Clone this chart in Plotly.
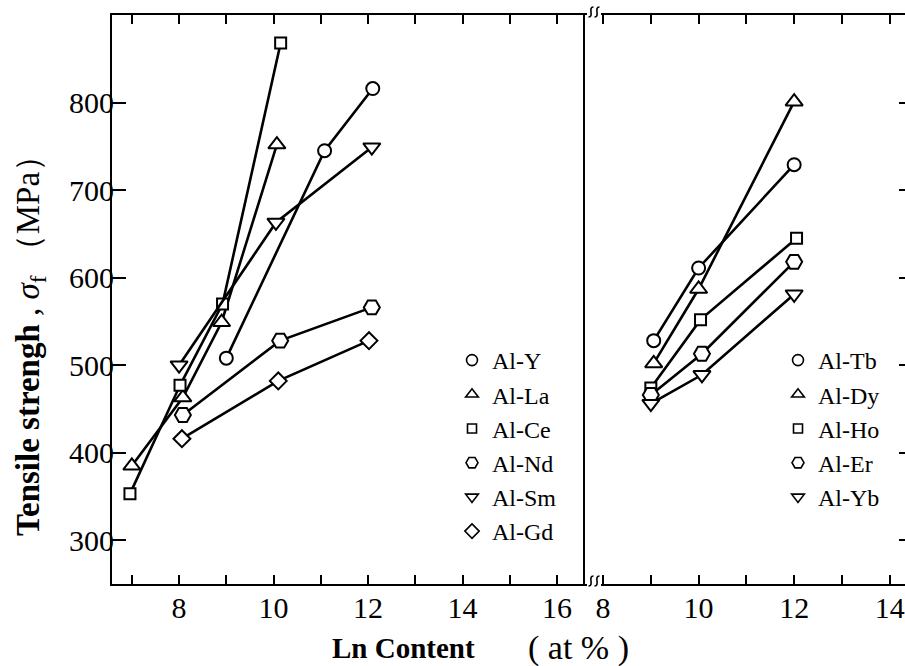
import plotly.graph_objects as go

W, H = 905, 666
FONT = "Liberation Serif"

# ---------------- data (left panel) ----------------
y_x = [9.0, 11.08, 12.1];            y_y = [508, 745, 816]
la_x = [7.0, 8.08, 8.9, 10.07];      la_y = [385, 463, 549, 752]
ce_x = [6.96, 8.02, 8.92, 10.15];    ce_y = [353, 477, 570, 868]
nd_x = [8.08, 10.14, 12.08];         nd_y = [443, 528, 566]
sm_x = [8.0, 10.05, 12.08];          sm_y = [500, 663, 749]
gd_x = [8.06, 10.1, 12.02];          gd_y = [416, 482, 528]

# ---------------- data (right panel) ----------------
tb_x = [9.06, 10.0, 12.0];           tb_y = [528, 611, 729]
dy_x = [9.06, 10.0, 12.0];           dy_y = [502, 587, 801]
ho_x = [9.0, 10.04, 12.05];          ho_y = [474, 552, 645]
er_x = [9.0, 10.07, 12.0];           er_y = [466, 513, 618]
yb_x = [9.0, 10.07, 12.0];           yb_y = [456, 489, 581]

left_names = ["Al-Y", "Al-La", "Al-Ce", "Al-Nd", "Al-Sm", "Al-Gd"]
right_names = ["Al-Tb", "Al-Dy", "Al-Ho", "Al-Er", "Al-Yb"]

y_ticks = [300, 400, 500, 600, 700, 800]

def px(x):
    return x / W

def py(y):
    return 1 - y / H

fig = go.Figure()

left_series = [
    (y_x, y_y, "circle", 13),
    (la_x, la_y, "triangle-up", 15),
    (ce_x, ce_y, "square", 11),
    (nd_x, nd_y, "hexagon2", 16),
    (sm_x, sm_y, "triangle-down", 15),
    (gd_x, gd_y, "diamond", 13),
]
right_series = [
    (tb_x, tb_y, "circle", 13),
    (dy_x, dy_y, "triangle-up", 15),
    (ho_x, ho_y, "square", 11),
    (er_x, er_y, "hexagon2", 16),
    (yb_x, yb_y, "triangle-down", 15),
]
legend_sizes = {"circle": 11, "triangle-up": 11, "square": 9,
                "hexagon2": 12, "triangle-down": 11, "diamond": 11}

for (xs, ys, sym, sz), name in zip(left_series, left_names):
    fig.add_trace(go.Scatter(
        x=xs, y=ys, mode="lines+markers", xaxis="x", yaxis="y",
        line=dict(color="black", width=2.6),
        marker=dict(symbol=sym, size=sz, color="white",
                    line=dict(color="black", width=2)),
        showlegend=False, name=name))
for (xs, ys, sym, sz), name in zip(right_series, right_names):
    fig.add_trace(go.Scatter(
        x=xs, y=ys, mode="lines+markers", xaxis="x2", yaxis="y2",
        line=dict(color="black", width=2.6),
        marker=dict(symbol=sym, size=sz, color="white",
                    line=dict(color="black", width=2)),
        showlegend=False, name=name))

# legend-only entries (marker only)
for (xs, ys, sym, sz), name in zip(left_series, left_names):
    fig.add_trace(go.Scatter(
        x=[None], y=[None], mode="markers", xaxis="x", yaxis="y",
        marker=dict(symbol=sym, size=legend_sizes[sym], color="white",
                    line=dict(color="black", width=1.6)),
        name=name, legend="legend"))
for (xs, ys, sym, sz), name in zip(right_series, right_names):
    fig.add_trace(go.Scatter(
        x=[None], y=[None], mode="markers", xaxis="x2", yaxis="y2",
        marker=dict(symbol=sym, size=legend_sizes[sym], color="white",
                    line=dict(color="black", width=1.6)),
        name=name, legend="legend2"))

tickfont = dict(family=FONT, size=30, color="black")
ydom = [py(584), py(15)]

axis_common = dict(showgrid=False, zeroline=False, showline=True,
                   linecolor="black", linewidth=2, ticks="inside",
                   tickcolor="black", tickwidth=1.5, tickfont=tickfont)
minor_x = dict(dtick=1, ticks="inside", ticklen=9, tickwidth=1.5,
               tickcolor="black", showgrid=False)

fig.update_layout(
    width=W, height=H,
    margin=dict(l=0, r=0, t=0, b=0),
    paper_bgcolor="white", plot_bgcolor="white",
    xaxis=dict(domain=[px(112), px(583)], range=[6.58, 16.55],
               tick0=8, dtick=2, minor=minor_x, ticklabelstandoff=-4,
               ticklen=9, mirror="ticks", anchor="y", **axis_common),
    yaxis=dict(domain=ydom, range=[250, 900], tickmode="array",
               tickvals=y_ticks, ticklen=14, mirror=True, anchor="x",
               ticklabelstandoff=-10, **axis_common),
    xaxis2=dict(domain=[px(583), 1.0], range=[7.58, 14.32],
                tick0=8, dtick=2, minor=minor_x, ticklabelstandoff=-4,
                ticklen=9, mirror="ticks", anchor="y2", **axis_common),
    yaxis2=dict(domain=ydom, range=[250, 900], tickmode="array",
                tickvals=y_ticks, ticklen=6, side="right", anchor="x2",
                showticklabels=False, showgrid=False, zeroline=False,
                showline=False, ticks="inside", tickcolor="black", tickwidth=1.5),
    legend=dict(x=px(452), y=py(338), xanchor="left", yanchor="top",
                bgcolor="rgba(0,0,0,0)", borderwidth=0,
                font=dict(family=FONT, size=24, color="black"),
                tracegroupgap=0, itemwidth=30),
    legend2=dict(x=px(778), y=py(338), xanchor="left", yanchor="top",
                 bgcolor="rgba(0,0,0,0)", borderwidth=0,
                 font=dict(family=FONT, size=24, color="black"),
                 tracegroupgap=0, itemwidth=30),
)

# axis titles
fig.add_annotation(
    text="<b>Tensile strengh</b> , <i>σ</i><sub>f</sub> （MPa）",
    textangle=-90, xref="paper", yref="paper", x=px(30), y=py(338),
    xanchor="center", yanchor="middle", showarrow=False,
    font=dict(family=FONT, size=33, color="black"))
fig.add_annotation(
    text="<b>Ln Content</b>",
    xref="paper", yref="paper", x=px(477), y=py(648),
    xanchor="right", yanchor="middle", showarrow=False,
    font=dict(family=FONT, size=29, color="black"))
fig.add_annotation(
    text="( at % )",
    xref="paper", yref="paper", x=px(578), y=py(648),
    xanchor="center", yanchor="middle", showarrow=False,
    font=dict(family=FONT, size=34, color="black"))

# axis-break marks
def squiggle(x0, yc):
    pts = []
    for dx in (0, 6):
        xa = x0 + dx
        pts.append(
            f"M {px(xa-2.5)},{py(yc+5)} C {px(xa+3.5)},{py(yc+5)} {px(xa-3.5)},{py(yc-5)} {px(xa+2.5)},{py(yc-5)}")
    return " ".join(pts)

for yc in (15, 584):
    fig.add_shape(type="rect", xref="paper", yref="paper",
                  x0=px(587), x1=px(601), y0=py(yc+2), y1=py(yc-2),
                  fillcolor="white", line=dict(width=0), layer="above")
    fig.add_shape(type="path", xref="paper", yref="paper",
                  path=squiggle(591, yc - 3), line=dict(color="black", width=1.6),
                  layer="above")

fig.write_html("out.html")
